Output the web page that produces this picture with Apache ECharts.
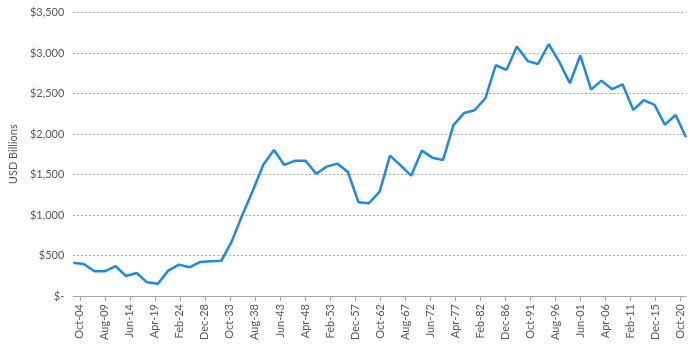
<!DOCTYPE html>
<html>
<head>
<meta charset="utf-8">
<script src="https://cdn.jsdelivr.net/npm/echarts@6/dist/echarts.min.js"></script>
<style>
  html, body { margin: 0; padding: 0; background: #fff; }
  #chart { width: 700px; height: 350px; }
</style>
</head>
<body>
<div id="chart"></div>
<script>
// observation dates (YYYY-MM)
const dates = [
  '1903-07', '1905-07', '1907-08', '1909-08', '1911-09', '1913-09', '1915-10', '1917-10',
  '1919-11', '1921-11', '1923-12', '1925-12', '1928-01', '1930-01', '1932-02', '1934-02',
  '1936-02', '1938-03', '1940-03', '1942-04', '1944-04', '1946-05', '1948-05', '1950-06',
  '1952-06', '1954-07', '1956-07', '1958-08', '1960-08', '1962-09', '1964-09', '1966-10',
  '1968-10', '1970-11', '1972-11', '1974-12', '1976-12', '1979-01', '1981-01', '1983-02',
  '1985-02', '1987-03', '1989-03', '1991-04', '1993-04', '1995-05', '1997-05', '1999-06',
  '2001-06', '2003-07', '2005-07', '2007-08', '2009-08', '2011-09', '2013-09', '2015-10',
  '2017-10', '2019-11', '2021-11'
]

// USD billions
const values = [
  411, 395, 305, 305, 370, 247, 284, 169, 152, 313, 387, 354, 420, 428, 434, 671,
  990, 1300, 1618, 1803, 1618, 1671, 1671, 1510, 1597, 1634, 1535, 1157, 1145, 1288,
  1733, 1609, 1486, 1795, 1708, 1680, 2110, 2260, 2293, 2441, 2849, 2791, 3079, 2900,
  2865, 3108, 2894, 2627, 2972, 2548, 2659, 2553, 2614, 2297, 2417, 2359, 2116, 2235,
  1960
]

const tickLabels = [
  'Oct-04', 'Aug-09', 'Jun-14', 'Apr-19', 'Feb-24', 'Dec-28', 'Oct-33', 'Aug-38',
  'Jun-43', 'Apr-48', 'Feb-53', 'Dec-57', 'Oct-62', 'Aug-67', 'Jun-72', 'Apr-77',
  'Feb-82', 'Dec-86', 'Oct-91', 'Aug-96', 'Jun-01', 'Apr-06', 'Feb-11', 'Dec-15',
  'Oct-20'
]

const monthNames = ['Jan', 'Feb', 'Mar', 'Apr', 'May', 'Jun', 'Jul', 'Aug', 'Sep', 'Oct', 'Nov', 'Dec']

// months since Jan 1900
const toMonth = (s) => {
  const [y, m] = s.split('-').map(Number)
  return (y - 1900) * 12 + (m - 1)
}

const tickMonths = []
const labelByMonth = {}
let century = 1900
let lastYear = 0
tickLabels.forEach((lab) => {
  const [mon, yy] = lab.split('-')
  let year = century + Number(yy)
  if (year < lastYear) {
    century += 100
    year += 100
  }
  lastYear = year
  const m = (year - 1900) * 12 + monthNames.indexOf(mon)
  tickMonths.push(m)
  labelByMonth[m] = lab
})

const seriesData = dates.map((d, i) => [toMonth(d), values[i]])

const textColor = '#595959'
const font = 'Lato, "Open Sans", sans-serif'

const chart = echarts.init(document.getElementById('chart'))
chart.setOption({
  animation: false,
  grid: { left: 67, right: 14, top: 12.5, bottom: 54 },
  xAxis: {
    type: 'value',
    min: seriesData[0][0],
    max: seriesData[seriesData.length - 1][0],
    splitLine: { show: false },
    axisLine: { show: true, lineStyle: { color: '#a6a6a6', width: 1 } },
    axisTick: {
      show: true,
      customValues: tickMonths,
      length: 5,
      lineStyle: { color: '#a6a6a6' }
    },
    axisLabel: {
      customValues: tickMonths,
      rotate: 90,
      margin: 8,
      color: textColor,
      fontSize: 11,
      fontFamily: font,
      formatter: (v) => labelByMonth[v] || ''
    }
  },
  yAxis: {
    type: 'value',
    min: 0,
    max: 3500,
    interval: 500,
    name: 'USD Billions',
    nameLocation: 'middle',
    nameGap: 50,
    nameTextStyle: { color: textColor, fontSize: 11, fontFamily: font },
    axisLine: { show: false },
    axisTick: { show: false },
    axisLabel: {
      margin: 9,
      color: textColor,
      fontSize: 11,
      fontFamily: font,
      formatter: (v) => v === 0 ? '$-' : '$' + v.toLocaleString('en-US')
    },
    splitLine: {
      lineStyle: { color: '#a6a6a6', type: [2, 2], width: 1 }
    }
  },
  series: [{
    type: 'line',
    data: seriesData,
    symbol: 'none',
    lineStyle: { color: '#1E88E5', width: 2.5 },
    z: 3
  }]
})
</script>
</body>
</html>
